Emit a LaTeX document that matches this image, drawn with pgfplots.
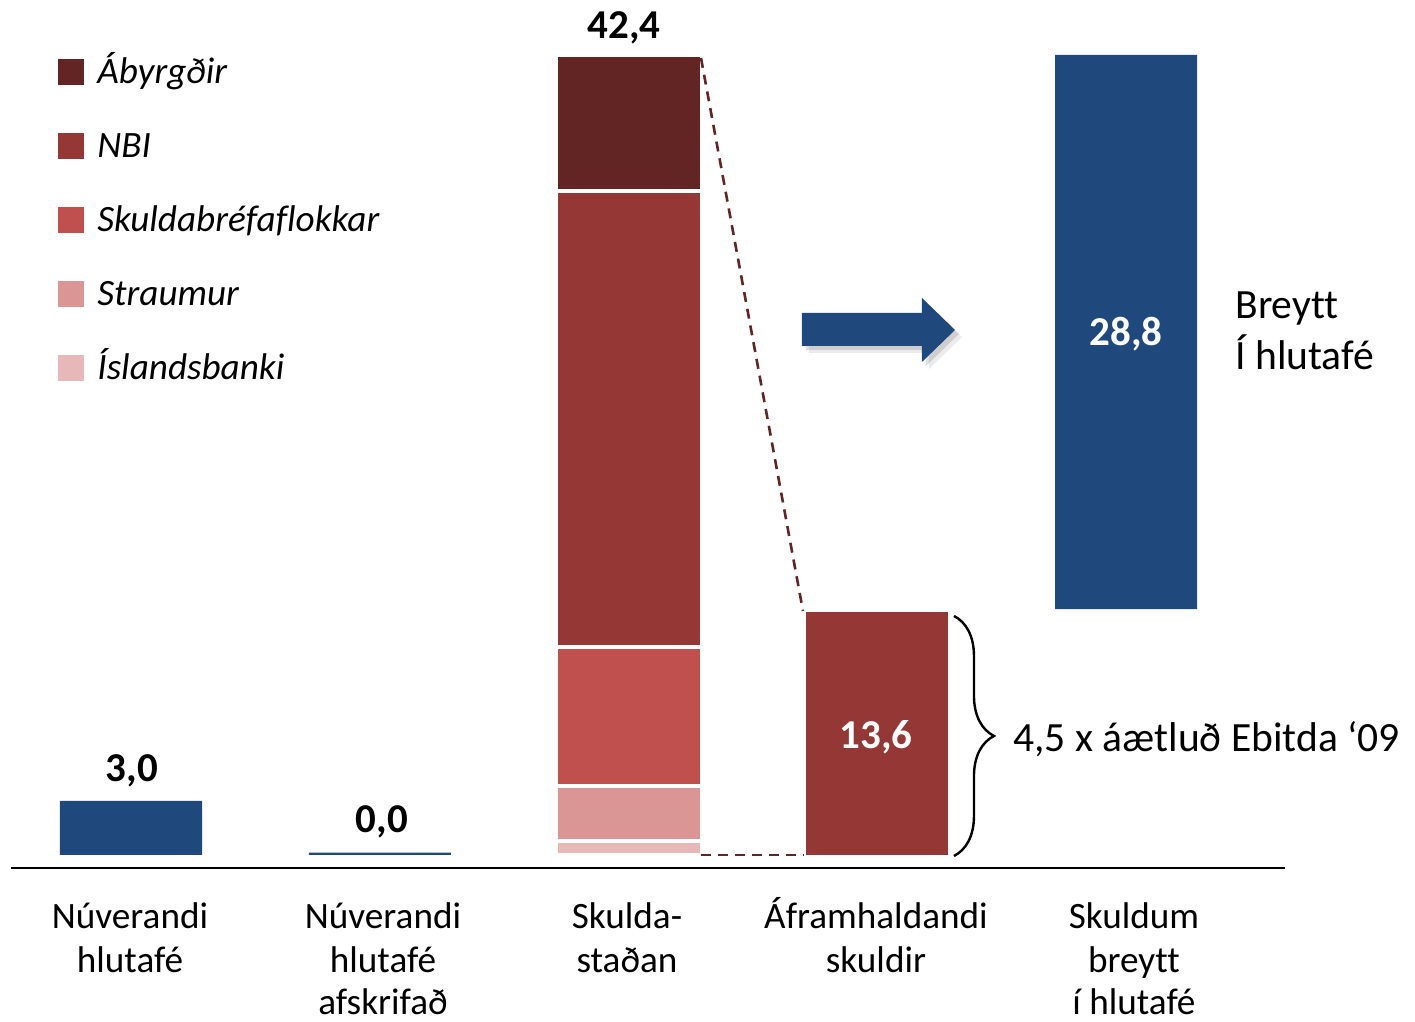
\documentclass[border=0pt]{standalone}
\usepackage{pgfplots}
\pgfplotsset{compat=1.18}
\usepackage{fontspec}
\setmainfont[Ligatures=NoCommon]{Carlito}
\usetikzlibrary{decorations.pathreplacing,shadows}

\definecolor{cBlue}{HTML}{1F497D}
\definecolor{cAby}{HTML}{632523}
\definecolor{cNBI}{HTML}{953735}
\definecolor{cSkb}{HTML}{C0504D}
\definecolor{cStr}{HTML}{D99694}
\definecolor{cIsl}{HTML}{E6B9B8}

\newcommand\catfont{\fontsize{18.6bp}{22bp}\selectfont}
\newcommand\legfont{\fontsize{18.6bp}{22bp}\selectfont\itshape}
\newcommand\valfont{\fontsize{20.5bp}{24bp}\selectfont\bfseries}
\newcommand\notefont{\fontsize{20.8bp}{24bp}\selectfont}

\begin{document}
\begin{tikzpicture}
\begin{axis}[
    name=ax,
    at={(0,0)}, anchor=south west,
    scale only axis,
    width=707.5bp, height=511bp,
    xmin=-0.52663, xmax=5.16181,
    ymin=-8.8735, ymax=45.4304,
    hide axis,
    clip=false,
    ybar stacked,
    bar width=71bp,
]
% stacked debt position (Skuldastaðan)
\addplot[fill=cIsl, draw=white, line width=2bp, bar width=73bp]
    coordinates {(0,0)(1,0)(2,0.74)(3,0)(4,0)};
\addplot[fill=cStr, draw=white, line width=2bp, bar width=73bp]
    coordinates {(0,0)(1,0)(2,2.90)(3,0)(4,0)};
\addplot[fill=cSkb, draw=white, line width=2bp, bar width=73bp]
    coordinates {(0,0)(1,0)(2,7.41)(3,0)(4,0)};
\addplot[fill=cNBI, draw=white, line width=2bp, bar width=73bp]
    coordinates {(0,0)(1,0)(2,24.23)(3,0)(4,0)};
\addplot[fill=cAby, draw=white, line width=2bp, bar width=73bp]
    coordinates {(0,0)(1,0)(2,7.23)(3,0)(4,0)};
% continuing debt
\addplot[fill=cNBI, draw=none]
    coordinates {(0,0)(1,0)(2,0)(3,12.91)(4,0)};
% invisible base for the floating bar
\addplot[fill=none, draw=none]
    coordinates {(0,0)(1,0)(2,0)(3,0)(4,13.07)};
% equity bars
\addplot[fill=cBlue, draw=none]
    coordinates {(0,2.87)(1,0.12)(2,0)(3,0)(4,29.44)};
\end{axis}

% annotations, in pixel units of the reference (origin top left)
\begin{scope}[shift={(ax.north west)}, x=0.5bp, y=-0.5bp]
  % base line
  \draw[line width=1.3bp] (11,868) -- (1285,868);

  % connector lines
  \draw[cAby, line width=1.3bp, dash pattern=on 5bp off 3.5bp] (701,58) -- (803,611);
  \draw[cAby, line width=1.3bp, dash pattern=on 5bp off 3.5bp] (701,855) -- (804,855);

  % arrow
  \fill[cBlue,
        drop shadow={shadow xshift=3.5bp, shadow yshift=-3.5bp, opacity=0.08, fill=black},
        drop shadow={shadow xshift=2bp, shadow yshift=-2bp, opacity=0.12, fill=black}]
    (802,313) -- (922,313) -- (922,298) -- (955,330) -- (922,362) -- (922,346) -- (802,346) -- cycle;

  % brace
  \draw[line width=1.2bp, decorate, decoration={brace, amplitude=20bp, aspect=0.5}]
    (954,616) -- (954,856);

  % legend
  \fill[cAby] (58,59) rectangle (84,85);
  \fill[cNBI] (58,133) rectangle (84,159);
  \fill[cSkb] (58,207) rectangle (84,233);
  \fill[cStr] (58,281) rectangle (84,307);
  \fill[cIsl] (58,355) rectangle (84,381);
  \node[anchor=base west, inner sep=0, font=\legfont] at (97,84) {Ábyrgðir};
  \node[anchor=base west, inner sep=0, font=\legfont] at (97,158) {NBI};
  \node[anchor=base west, inner sep=0, font=\legfont] at (97,232) {Skuldabréfaflokkar};
  \node[anchor=base west, inner sep=0, font=\legfont] at (97,306) {Straumur};
  \node[anchor=base west, inner sep=0, font=\legfont] at (97,380) {Íslandsbanki};

  % value labels
  \node[anchor=base, inner sep=0, font=\valfont] at (624,39) {42,4};
  \node[anchor=base, inner sep=0, font=\valfont] at (132,782) {3,0};
  \node[anchor=base, inner sep=0, font=\valfont] at (382,833) {0,0};
  \node[anchor=base, inner sep=0, font=\valfont, text=white] at (876,749) {13,6};
  \node[anchor=base, inner sep=0, font=\valfont, text=white] at (1126,346) {28,8};

  % side notes
  \node[anchor=base west, inner sep=0, font=\notefont] at (1235,319) {Breytt};
  \node[anchor=base west, inner sep=0, font=\notefont] at (1235,370) {Í hlutafé};
  \node[anchor=base west, inner sep=0, font=\notefont] at (1013,752) {4,5 x áætluð Ebitda ‘09};

  % category labels
  \node[anchor=base, inner sep=0, font=\catfont] at (130,929) {Núverandi};
  \node[anchor=base, inner sep=0, font=\catfont] at (130,973) {hlutafé};
  \node[anchor=base, inner sep=0, font=\catfont] at (383,929) {Núverandi};
  \node[anchor=base, inner sep=0, font=\catfont] at (383,973) {hlutafé};
  \node[anchor=base, inner sep=0, font=\catfont] at (383,1015) {afskrifað};
  \node[anchor=base, inner sep=0, font=\catfont] at (627,929) {Skulda-};
  \node[anchor=base, inner sep=0, font=\catfont] at (627,973) {staðan};
  \node[anchor=base, inner sep=0, font=\catfont] at (876,929) {Áframhaldandi};
  \node[anchor=base, inner sep=0, font=\catfont] at (876,973) {skuldir};
  \node[anchor=base, inner sep=0, font=\catfont] at (1134,929) {Skuldum};
  \node[anchor=base, inner sep=0, font=\catfont] at (1134,973) {breytt};
  \node[anchor=base, inner sep=0, font=\catfont] at (1134,1015) {í hlutafé};
\end{scope}

\pgfresetboundingbox
\path[use as bounding box] (ax.south west) rectangle (ax.north east);
\end{tikzpicture}
\end{document}
